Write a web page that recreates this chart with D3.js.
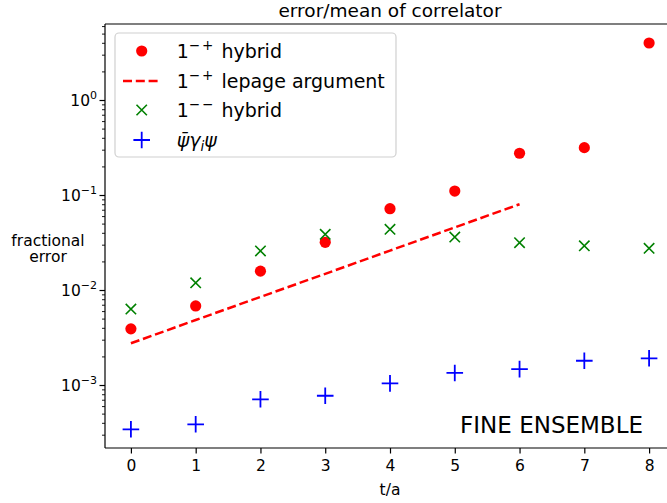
<!DOCTYPE html>
<html><head><meta charset="utf-8">
<script src="https://cdn.jsdelivr.net/npm/d3@7"></script>
<style>body{margin:0;background:#fff}svg{display:block;font-family:"DejaVu Sans",sans-serif}</style>
</head><body><svg id="c" width="667" height="503"></svg>
<script>
// ---- data ----
const tValues = [0,1,2,3,4,5,6,7,8];
const hybridMinusPlus = [0.0039,0.0068,0.0158,0.0318,0.0718,0.110,0.275,0.315,3.98];
const lepageT = [0,1,2,3,4,5,6];
const lepageArgument = [0.00275,0.00483,0.00846,0.0148,0.0260,0.0456,0.0800];
const hybridMinusMinus = [0.0063,0.0119,0.0258,0.0386,0.0435,0.0361,0.0315,0.0292,0.0275];
const vectorCurrent = [3.42e-4,3.86e-4,7.07e-4,7.71e-4,1.04e-3,1.34e-3,1.47e-3,1.80e-3,1.91e-3];
const xTicks = [0,1,2,3,4,5,6,7,8];
const yDecades = [-3,-2,-1,0];

const svg = d3.select("#c");
const L=105,R=675,T=24,B=448;
const x = d3.scaleLinear().domain([-0.4,8.4]).range([L,R]);
const y = d3.scaleLog().domain([Math.pow(10,-3.663),Math.pow(10,0.8)]).range([B,T]);

// title
svg.append("text").attr("x",(L+R)/2).attr("y",17).attr("text-anchor","middle")
  .attr("font-size",18.5).text("error/mean of correlator");

// axes spines (left, bottom, top)
const g = svg.append("g");
g.append("line").attr("x1",L).attr("x2",L).attr("y1",T).attr("y2",B).attr("stroke","#000").attr("stroke-width",1.2);
g.append("line").attr("x1",L).attr("x2",R).attr("y1",B).attr("y2",B).attr("stroke","#000").attr("stroke-width",1.2);
g.append("line").attr("x1",L).attr("x2",R).attr("y1",T).attr("y2",T).attr("stroke","#000").attr("stroke-width",1.2);

// x axis
const xa = svg.append("g").attr("transform",`translate(0,${B})`)
  .call(d3.axisBottom(x).tickValues(xTicks).tickSize(5.5).tickPadding(6).tickFormat(d3.format("d")));
xa.select(".domain").remove();
xa.selectAll("line").attr("stroke-width",1.2);
xa.selectAll("text").attr("font-size",15.5).attr("font-family","DejaVu Sans").attr("fill","#000");
svg.append("text").attr("x",(L+R)/2).attr("y",495).attr("text-anchor","middle").attr("font-size",15.5).text("t/a");

// y axis: major + minor ticks
const minor = [];
for (let e=-4;e<=0;e++) for (let m=2;m<=9;m++){const v=m*Math.pow(10,e); if(v>=y.domain()[0]&&v<=y.domain()[1]) minor.push(v);}
const ya = svg.append("g").attr("transform",`translate(${L},0)`)
  .call(d3.axisLeft(y).tickValues(minor).tickSize(3).tickFormat(""));
ya.select(".domain").remove();
ya.selectAll("line").attr("stroke-width",0.9);
const yM = svg.append("g").attr("transform",`translate(${L},0)`)
  .call(d3.axisLeft(y).tickValues(yDecades.map(e=>Math.pow(10,e))).tickSize(5.5).tickFormat(""));
yM.select(".domain").remove();
yM.selectAll("line").attr("stroke-width",1.2);
yDecades.forEach(e=>{
  const t = svg.append("text").attr("x",L-8).attr("y",y(Math.pow(10,e))+5.5).attr("text-anchor","end").attr("font-size",15.5);
  t.append("tspan").text("10");
  t.append("tspan").attr("font-size",11).attr("dy",-7).text(e===0?"0":"\u2212"+(-e));
});
svg.append("text").attr("x",48).attr("y",245.5).attr("text-anchor","middle").attr("font-size",15.5).text("fractional");
svg.append("text").attr("x",48).attr("y",262).attr("text-anchor","middle").attr("font-size",15.5).text("error");

// clip
svg.append("clipPath").attr("id","clp").append("rect").attr("x",L).attr("y",T).attr("width",R-L).attr("height",B-T);
const plot = svg.append("g").attr("clip-path","url(#clp)");

// lepage dashed line
plot.append("path").datum(lepageT.map((t,i)=>[t,lepageArgument[i]]))
  .attr("d",d3.line().x(d=>x(d[0])).y(d=>y(d[1])))
  .attr("fill","none").attr("stroke","#ff0000").attr("stroke-width",2.5).attr("stroke-dasharray","9,3.8");

// red circles
plot.selectAll(".rc").data(tValues.map((t,i)=>[t,hybridMinusPlus[i]])).enter().append("circle")
  .attr("cx",d=>x(d[0])).attr("cy",d=>y(d[1])).attr("r",5.6).attr("fill","#ff0000");

// green x
const xs=5.2;
const xPath = (cx,cy)=>`M${cx-xs},${cy-xs}L${cx+xs},${cy+xs}M${cx-xs},${cy+xs}L${cx+xs},${cy-xs}`;
plot.selectAll(".gx").data(tValues.map((t,i)=>[t,hybridMinusMinus[i]])).enter().append("path")
  .attr("d",d=>xPath(x(d[0]),y(d[1]))).attr("stroke","#008000").attr("stroke-width",1.6).attr("fill","none");

// blue plus
const ps=8.3;
const pPath = (cx,cy)=>`M${cx-ps},${cy}L${cx+ps},${cy}M${cx},${cy-ps}L${cx},${cy+ps}`;
plot.selectAll(".bp").data(tValues.map((t,i)=>[t,vectorCurrent[i]])).enter().append("path")
  .attr("d",d=>pPath(x(d[0]),y(d[1]))).attr("stroke","#0000ff").attr("stroke-width",1.8).attr("fill","none");

// annotation
svg.append("text").attr("x",643).attr("y",433).attr("text-anchor","end").attr("font-size",23).text("FINE ENSEMBLE");

// legend
const lg = svg.append("g");
lg.append("rect").attr("x",115).attr("y",33).attr("width",281).attr("height",124).attr("rx",4)
  .attr("fill","#fff").attr("fill-opacity",0.8).attr("stroke","#d0d0d0").attr("stroke-width",1.2);
const ly=[51,81,110,140], mx=141.7, tx=176.7;
lg.append("circle").attr("cx",mx).attr("cy",ly[0]).attr("r",5.6).attr("fill","#ff0000");
lg.append("line").attr("x1",123).attr("x2",160).attr("y1",ly[1]).attr("y2",ly[1]).attr("stroke","#ff0000").attr("stroke-width",2.5).attr("stroke-dasharray","9,3.8");
lg.append("path").attr("d",xPath(mx,ly[2])).attr("stroke","#008000").attr("stroke-width",1.6);
lg.append("path").attr("d",pPath(mx,ly[3])).attr("stroke","#0000ff").attr("stroke-width",1.8);
function supLabel(yy,sup,rest){
  const t=lg.append("text").attr("x",tx).attr("y",yy+7).attr("font-size",19);
  t.append("tspan").text("1");
  t.append("tspan").attr("font-size",13.5).attr("dy",-8).attr("letter-spacing",2).text(sup);
  t.append("tspan").attr("dy",8).text(" "+rest);
}
supLabel(ly[0],"\u2212+","hybrid");
supLabel(ly[1],"\u2212+","lepage argument");
supLabel(ly[2],"\u2212\u2212","hybrid");
const t4=lg.append("text").attr("x",tx).attr("y",ly[3]+7).attr("font-size",19).attr("font-style","italic");
t4.append("tspan").text("\u03C8\u0304\u03B3");
t4.append("tspan").attr("font-size",13.5).attr("dy",4).text("i");
t4.append("tspan").attr("dy",-4).text("\u03C8");
</script></body></html>
